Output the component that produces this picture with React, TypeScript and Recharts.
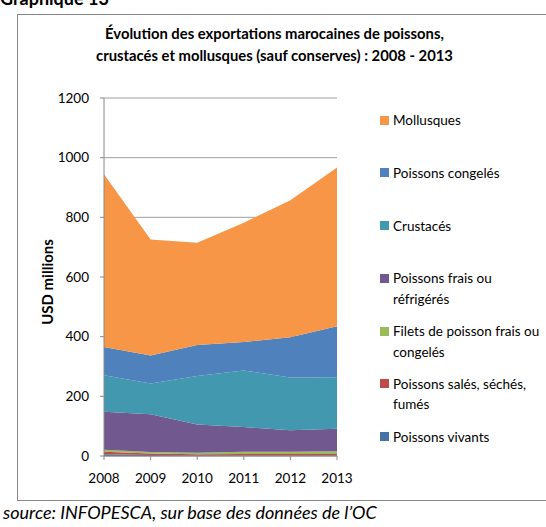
import React from 'react';
import { AreaChart, Area, XAxis, YAxis, CartesianGrid } from 'recharts';

const years = ['2008', '2009', '2010', '2011', '2012', '2013'];
const vivants = [6, 3, 2, 2, 2, 2];
const sales = [8, 5, 4, 5, 5, 5];
const filets = [7, 5, 5, 7, 7, 9];
const frais = [127, 127, 95, 83, 72, 75];
const crustaces = [123, 103, 162, 190, 177, 173];
const congeles = [94, 94, 104, 95, 135, 171];
const mollusques = [579, 389, 343, 400, 459, 532];
const yTicks = [0, 200, 400, 600, 800, 1000, 1200];

const series = [
  { key: 'vivants', name: 'Poissons vivants', lines: ['Poissons vivants'], color: '#4572A7', values: vivants },
  { key: 'sales', name: 'Poissons salés, séchés, fumés', lines: ['Poissons salés, séchés,', 'fumés'], color: '#BE4B48', values: sales },
  { key: 'filets', name: 'Filets de poisson frais ou congelés', lines: ['Filets de poisson frais ou', 'congelés'], color: '#9BBB59', values: filets },
  { key: 'frais', name: 'Poissons frais ou réfrigérés', lines: ['Poissons frais ou', 'réfrigérés'], color: '#71588F', values: frais },
  { key: 'crustaces', name: 'Crustacés', lines: ['Crustacés'], color: '#4198AF', values: crustaces },
  { key: 'congeles', name: 'Poissons congelés', lines: ['Poissons congelés'], color: '#4F81BD', values: congeles },
  { key: 'mollusques', name: 'Mollusques', lines: ['Mollusques'], color: '#F79646', values: mollusques },
];

const data = years.map((y, i) => {
  const row: Record<string, string | number> = { year: y };
  series.forEach((s) => { row[s.key] = s.values[i]; });
  return row;
});

const FONT = 'Lato, "Open Sans", sans-serif';

const LegendBox = () => (
  <div style={{ position: 'absolute', left: 380, top: 110, fontFamily: FONT, fontSize: 13.5, color: '#000' }}>
    {[...series].reverse().map((s) => (
      <div key={s.key} style={{ position: 'relative', height: 52.8 }}>
        <div style={{ position: 'absolute', left: 0, top: 5.5, width: 9, height: 9, background: s.color }} />
        <div style={{ position: 'absolute', left: 13, top: 0, lineHeight: '20.5px', whiteSpace: 'nowrap' }}>
          {s.lines.map((l, j) => <div key={j}>{l}</div>)}
        </div>
      </div>
    ))}
  </div>
);

export default function App() {
  return (
    <div style={{ position: 'absolute', left: 0, top: 0, width: 546, height: 527, overflow: 'hidden', background: '#fff', fontFamily: FONT }}>
      <div style={{ position: 'absolute', left: 0, top: -13, fontSize: 18, fontWeight: 700, whiteSpace: 'nowrap' }}>Graphique 13</div>
      <div style={{ position: 'absolute', left: 17, top: 14, width: 560, height: 485, border: '1px solid #888' }} />
      <div style={{ position: 'absolute', left: 0, width: 546, top: 22, textAlign: 'center', paddingLeft: 3, boxSizing: 'border-box', fontSize: 14.8, fontWeight: 700, lineHeight: '22px', color: '#000' }}>
        <div>Évolution des exportations marocaines de poissons,</div>
        <div>crustacés et mollusques (sauf conserves) : 2008 - 2013</div>
      </div>
      <div style={{ position: 'absolute', left: 47, top: 282, transform: 'translate(-50%, -50%) rotate(-90deg)', fontSize: 15, fontWeight: 700, whiteSpace: 'nowrap' }}>USD millions</div>
      <div style={{ position: 'absolute', left: 3, top: 501, fontSize: 18, fontStyle: 'italic', whiteSpace: 'nowrap' }}>source: INFOPESCA, sur base des données de l’OC</div>
      <div style={{ position: 'absolute', left: 0, top: 0 }}>
        <AreaChart width={546} height={527} data={data} margin={{ top: 98, right: 209, bottom: 41, left: 0 }}>
          <CartesianGrid horizontal vertical={false} stroke="#A0A0A0" strokeWidth={1} />
          <XAxis dataKey="year" height={30} tickSize={4} tickMargin={13} stroke="#888" tick={{ fill: '#000', fontSize: 13.5, fontFamily: FONT }} interval={0} />
          <YAxis width={104} domain={[0, 1200]} ticks={yTicks} tickSize={4} tickMargin={11} stroke="#888" tick={{ fill: '#000', fontSize: 13.5, fontFamily: FONT }} interval={0} />
          {series.map((s) => (
            <Area key={s.key} type="linear" dataKey={s.key} name={s.name} stackId="1" stroke="none" fill={s.color} fillOpacity={1} isAnimationActive={false} />
          ))}
        </AreaChart>
      </div>
      <LegendBox />
    </div>
  );
}
